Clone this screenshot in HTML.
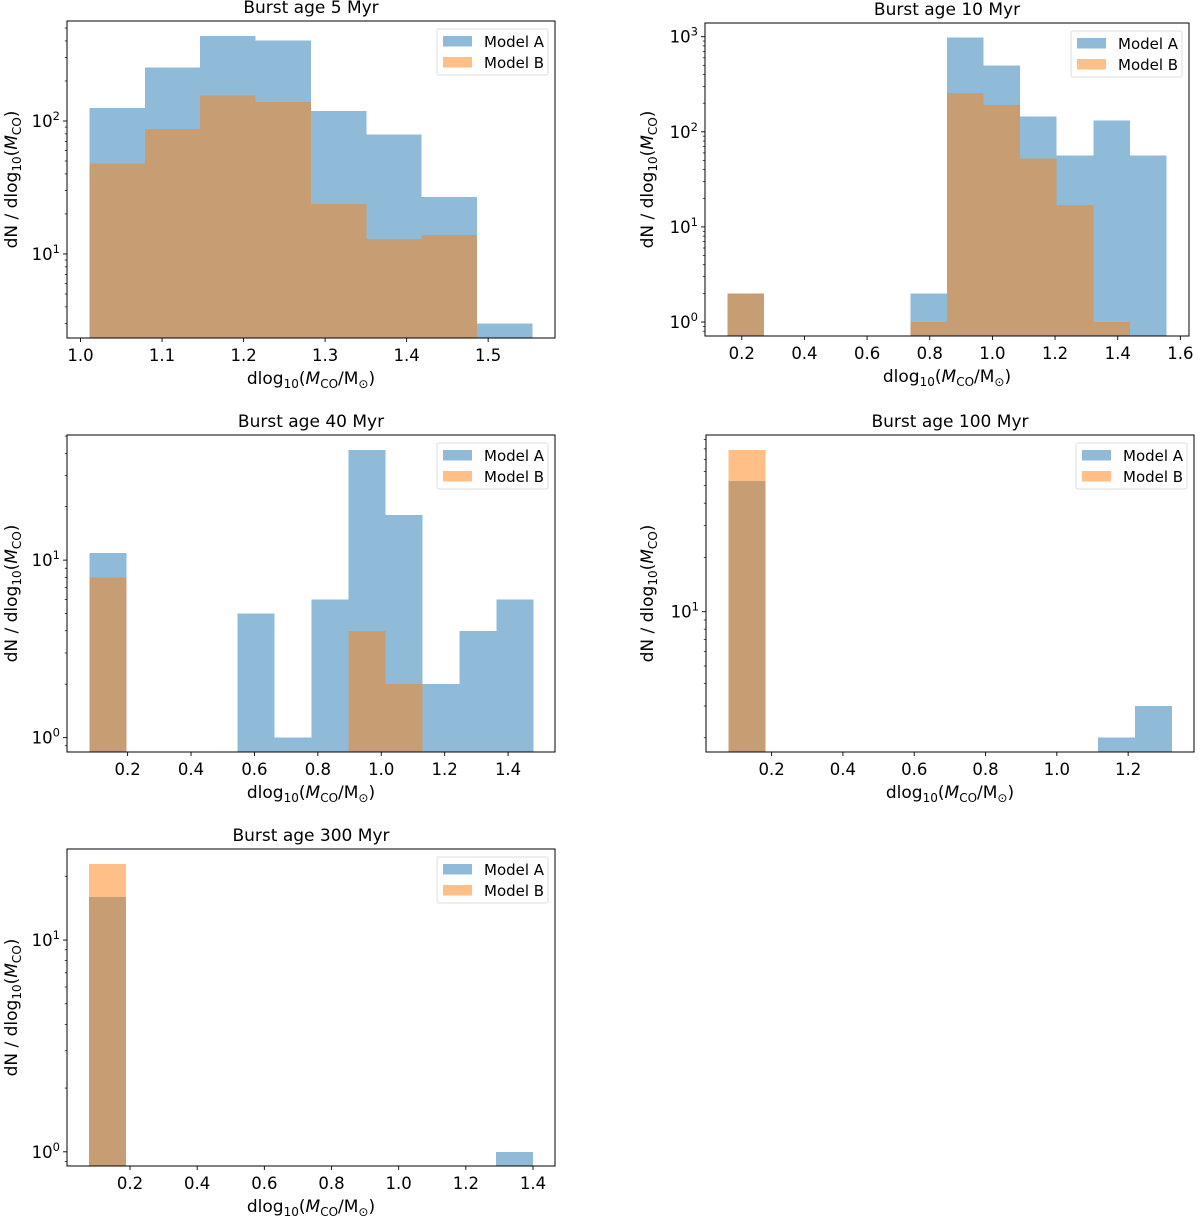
<!DOCTYPE html>
<html><head><meta charset="utf-8">
<style>
html,body{margin:0;padding:0;background:#fff;}
svg{display:block;font-family:"DejaVu Sans","Liberation Sans",sans-serif;}
</style></head>
<body>
<svg id="fig" width="1200" height="1216" viewBox="0 0 1200 1216" xmlns="http://www.w3.org/2000/svg"></svg>
<script>
// ---- data (counts per bin, dN/dlog10 M) ----
const titles = ["Burst age 5 Myr","Burst age 10 Myr","Burst age 40 Myr","Burst age 100 Myr","Burst age 300 Myr"];
const binStart = [1.011, 0.155, 0.079, 0.0797, 0.078];
const binWidth = [0.0679, 0.1167, 0.1167, 0.1036, 0.1102];
const modelA5   = [125, 253, 435, 402, 119, 79, 26.7, 3.0];
const modelB5   = [48, 87, 156, 139, 23.8, 13, 13.9, 0];
const modelA10  = [2, 0, 0, 0, 0, 2, 977, 498, 145, 56.6, 131, 56.6];
const modelB10  = [2, 0, 0, 0, 0, 1, 257, 191, 52.6, 16.9, 1, 0];
const modelA40  = [11, 0, 0, 0, 5, 1, 6, 41.7, 18, 2, 4, 6];
const modelB40  = [8, 0, 0, 0, 0, 0, 0, 4, 2, 0, 0, 0];
const modelA100 = [53, 0, 0, 0, 0, 0, 0, 0, 0, 0, 2, 3];
const modelB100 = [79, 0, 0, 0, 0, 0, 0, 0, 0, 0, 0, 0];
const modelA300 = [16, 0, 0, 0, 0, 0, 0, 0, 0, 0, 0, 1];
const modelB300 = [22.9, 0, 0, 0, 0, 0, 0, 0, 0, 0, 0, 0];
const xTicks5   = [1.0, 1.1, 1.2, 1.3, 1.4, 1.5];
const xTicks10  = [0.2, 0.4, 0.6, 0.8, 1.0, 1.2, 1.4, 1.6];
const xTicks40  = [0.2, 0.4, 0.6, 0.8, 1.0, 1.2, 1.4];
const xTicks100 = [0.2, 0.4, 0.6, 0.8, 1.0, 1.2];
const xTicks300 = [0.2, 0.4, 0.6, 0.8, 1.0, 1.2, 1.4];
const yDecades5 = [1, 2];
const yDecades10 = [0, 1, 2, 3];
const yDecades40 = [0, 1];
const yDecades100 = [1];
const yDecades300 = [0, 1];

// ---- layout ----
const layout = [
  {L:67, R:555, T:21, B:338, xd:[0.9834,1.582], yd:[0.368,2.752], ylx:10},
  {L:705, R:1189, T:23, B:336, xd:[0.0826,1.6275], yd:[-0.147,3.144], ylx:646},
  {L:67, R:555, T:435, B:752, xd:[0.0088,1.548], yd:[-0.081,1.705], ylx:10},
  {L:706, R:1194, T:435, B:752, xd:[0.016,1.3847], yd:[0.222,1.98], ylx:646},
  {L:67, R:555, T:849, B:1166, xd:[0.0124,1.4655], yd:[-0.067,1.43], ylx:10}
];
const seriesA = [modelA5, modelA10, modelA40, modelA100, modelA300];
const seriesB = [modelB5, modelB10, modelB40, modelB100, modelB300];
const xTickSets = [xTicks5, xTicks10, xTicks40, xTicks100, xTicks300];
const yDecSets = [yDecades5, yDecades10, yDecades40, yDecades100, yDecades300];

const NS = "http://www.w3.org/2000/svg";
const svg = document.getElementById('fig');
function mk(tag, attrs, parent){
  const e = document.createElementNS(NS, tag);
  for (const k in attrs) e.setAttribute(k, attrs[k]);
  (parent||svg).appendChild(e); return e;
}
function fmt(v){ return v.toFixed(1); }

layout.forEach((p, i) => {
  const g = mk('g', {});
  
  
  const xs = v => p.L + (v - p.xd[0]) / (p.xd[1] - p.xd[0]) * (p.R - p.L);
  const ys = v => p.B - (Math.log10(v) - p.yd[0]) / (p.yd[1] - p.yd[0]) * (p.B - p.T);
  const clipId = 'clip' + i;
  const cp = mk('clipPath', {id: clipId}, g);
  mk('rect', {x:p.L, y:p.T, width:p.R-p.L, height:p.B-p.T}, cp);
  const bars = mk('g', {'clip-path':'url(#' + clipId + ')', 'shape-rendering':'crispEdges'}, g);
  
  
  [[seriesA[i], '#1f77b4', 'model-a'], [seriesB[i], '#ff7f0e', 'model-b']].forEach(([arr, col, nm]) => {
    arr.forEach((v, k) => {
      if (!(v > 0)) return;
      const x0 = xs(binStart[i] + k*binWidth[i]), x1 = xs(binStart[i] + (k+1)*binWidth[i]);
      const yt = ys(v);
      const r = mk('rect', {x:x0, y:yt, width:x1-x0, height:p.B + 5 - yt, fill:col, 'fill-opacity':0.5}, bars);
      
      
    });
  });
  const fr = mk('rect', {x:p.L, y:p.T, width:p.R-p.L, height:p.B-p.T, fill:'none', stroke:'#000', 'stroke-width':1}, g);
  
  
  xTickSets[i].forEach(t => {
    const x = xs(t);
    mk('line', {x1:x, x2:x, y1:p.B, y2:p.B+4, stroke:'#000', 'stroke-width':0.9}, g);
    const tx = mk('text', {x:x, y:p.B+23, 'text-anchor':'middle', 'font-size':16.5}, g);
    tx.textContent = fmt(t);
    
    
  });
  for (let d = Math.floor(p.yd[0]) ; d <= Math.ceil(p.yd[1]); d++) {
    for (let m = 1; m <= 9; m++) {
      const lv = d + Math.log10(m);
      if (lv < p.yd[0] || lv > p.yd[1]) continue;
      const y = ys(Math.pow(10, lv));
      mk('line', {x1:p.L-(m===1?4:2.2), x2:p.L, y1:y, y2:y, stroke:'#000', 'stroke-width':m===1?0.9:0.7}, g);
    }
  }
  yDecSets[i].forEach(d => {
    const y = ys(Math.pow(10, d));
    const tx = mk('text', {x:p.L-7, y:y+6, 'text-anchor':'end', 'font-size':16.5}, g);
    
    
    const a = mk('tspan', {}, tx); a.textContent = '10';
    const b = mk('tspan', {dy:-7, 'font-size':11.5}, tx); b.textContent = String(d);
  });
  const tt = mk('text', {x:(p.L+p.R)/2, y:p.T-8, 'text-anchor':'middle', 'font-size':17}, g);
  tt.textContent = titles[i];
  
  
  const xl = mk('text', {x:(p.L+p.R)/2, y:p.B+46, 'text-anchor':'middle', 'font-size':17}, g);
  
  
  xl.innerHTML = 'dlog<tspan font-size="12" dy="4">10</tspan><tspan dy="-4">(</tspan><tspan font-style="italic">M</tspan><tspan font-size="12" dy="4">CO</tspan><tspan dy="-4">/M</tspan><tspan font-size="12" dy="4">⊙</tspan><tspan dy="-4">)</tspan>';
  const yl = mk('text', {transform:'translate(' + (p.ylx+7) + ',' + ((p.T+p.B)/2) + ') rotate(-90)', 'text-anchor':'middle', 'font-size':17}, g);
  
  
  yl.innerHTML = 'dN / dlog<tspan font-size="12" dy="4">10</tspan><tspan dy="-4">(</tspan><tspan font-style="italic">M</tspan><tspan font-size="12" dy="4">CO</tspan><tspan dy="-4">)</tspan>';
  const lg = mk('g', {}, g);
  
  
  const lx = p.R - 118, ly = p.T + 8;
  mk('rect', {x:lx, y:ly, width:111, height:46, rx:2, fill:'#fff', 'fill-opacity':0.8, stroke:'#ddd', 'stroke-width':1}, lg);
  [['Model A','#1f77b4'],['Model B','#ff7f0e']].forEach(([lab, col], k) => {
    const e = mk('g', {}, lg);
    
    
    mk('rect', {x:lx+6, y:ly+7+k*21, width:29, height:10.5, fill:col, 'fill-opacity':0.5}, e);
    const t = mk('text', {x:lx+47, y:ly+18+k*21, 'font-size':15}, e);
    t.textContent = lab;
  });
});
</script>
</body></html>
